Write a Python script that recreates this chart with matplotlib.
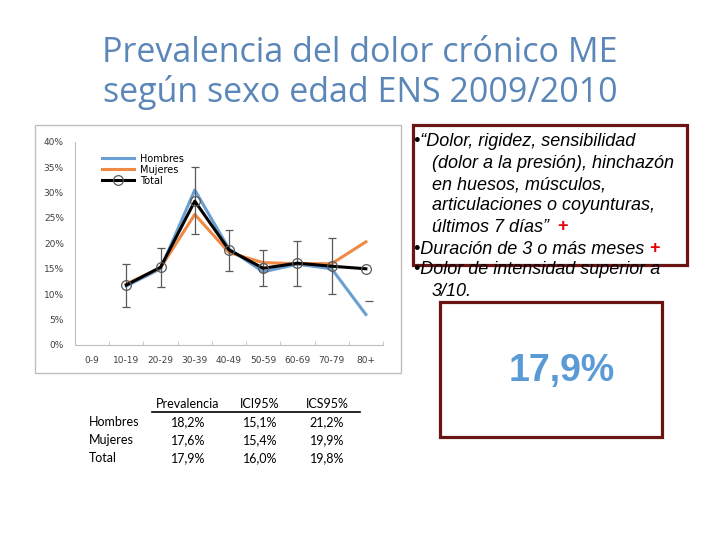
import matplotlib
matplotlib.use("Agg")
import matplotlib.pyplot as plt
from matplotlib.patches import Rectangle
import numpy as np

categories = ["0-9", "10-19", "20-29", "30-39", "40-49", "50-59", "60-69", "70-79", "80+"]
hombres = [None, 11.6, 15.0, 30.5, 18.9, 14.4, 15.9, 15.0, 6.0]
mujeres = [None, 12.0, 15.2, 25.7, 18.2, 16.2, 16.0, 16.0, 20.3]
total = [None, 11.8, 15.3, 28.3, 18.7, 15.1, 16.1, 15.5, 15.0]
total_low = [None, 7.5, 11.5, 21.8, 14.6, 11.7, 11.6, 10.0, None]
total_high = [None, 15.9, 19.0, 35.1, 22.6, 18.6, 20.5, 21.1, None]
cap_80_low = 8.6

table_cols = ["Prevalencia", "ICI95%", "ICS95%"]
table_rows = ["Hombres", "Mujeres", "Total"]
table_vals = [["18,2%", "15,1%", "21,2%"],
              ["17,6%", "15,4%", "19,9%"],
              ["17,9%", "16,0%", "19,8%"]]

W, H = 720, 540
fig = plt.figure(figsize=(7.2, 5.4), dpi=100)
fig.patch.set_facecolor("white")

def fx(x):
    return x / W

def fy(y):
    return 1 - y / H

# Title
title_color = "#5a86b8"
fig.text(fx(360), fy(62), "Prevalencia del dolor crónico ME", ha="center", va="baseline",
         fontsize=24.5, color=title_color, family="Open Sans")
fig.text(fx(360), fy(102), "según sexo edad ENS 2009/2010", ha="center", va="baseline",
         fontsize=24.5, color=title_color, family="Open Sans")

# Chart frame
fig.patches.append(Rectangle((fx(35), fy(373)), fx(401) - fx(35), fy(125) - fy(373),
                             transform=fig.transFigure, fill=False, edgecolor="#bfbfbf", lw=1))

ax = fig.add_axes([fx(75), fy(345), fx(383) - fx(75), fy(141.7) - fy(345)])
x = np.arange(len(categories))

def arr(v):
    return np.array([np.nan if a is None else a for a in v], dtype=float)

h = arr(hombres) / 100
m = arr(mujeres) / 100
t = arr(total) / 100
lo = arr(total_low) / 100
hi = arr(total_high) / 100

ax.plot(x, h, color="#6a9fd2", lw=2.2, label="Hombres")
ax.plot(x, m, color="#ee8a45", lw=2.2, label="Mujeres")
valid = ~np.isnan(lo)
ax.errorbar(x[valid], t[valid], yerr=[t[valid] - lo[valid], hi[valid] - t[valid]],
            fmt="none", ecolor="#595959", elinewidth=0.9, capsize=3, capthick=0.9)
ax.plot(x, t, color="black", lw=2.2, marker="o", markersize=7, markerfacecolor="none",
        markeredgecolor="#595959", markeredgewidth=0.9, label="Total")
ax.plot([x[-1] + 0.08], [cap_80_low / 100], marker="_", markersize=6, color="#595959",
        markeredgewidth=0.9)

ax.set_xlim(-0.5, 8.5)
ax.set_ylim(0, 0.40)
ax.set_yticks(np.arange(0, 0.41, 0.05))
ax.set_yticklabels([f"{int(round(v*100))}%" for v in np.arange(0, 0.41, 0.05)])
ax.set_xticks(x)
ax.set_xticklabels(categories)
ax.set_xticks(np.arange(0.5, 8.6, 1), minor=True)
ax.tick_params(axis="x", which="major", length=0, labelsize=6.5, colors="#404040", pad=8)
ax.tick_params(axis="x", which="minor", length=3, direction="in", color="#bfbfbf")
ax.tick_params(axis="y", length=0, labelsize=6.5, colors="#404040", pad=8)
for s in ["top", "right"]:
    ax.spines[s].set_visible(False)
for s in ["left", "bottom"]:
    ax.spines[s].set_color("#bfbfbf")
    ax.spines[s].set_linewidth(0.8)

leg = ax.legend(loc="upper left", bbox_to_anchor=(0.07, 0.97), frameon=False, fontsize=7,
                handlelength=3.3, labelspacing=0.1, borderaxespad=0.2, handletextpad=0.6)

# Right text box
red = "#6b1414"
fig.patches.append(Rectangle((fx(413), fy(265)), fx(687) - fx(413), fy(125) - fy(265),
                             transform=fig.transFigure, fill=False, edgecolor=red, lw=2.3))
fig.patches.append(Rectangle((fx(440), fy(437)), fx(662) - fx(440), fy(302) - fy(437),
                             transform=fig.transFigure, fill=False, edgecolor=red, lw=2.3))

lines = [
    (414, 142, "•“Dolor, rigidez, sensibilidad", None),
    (432, 163, "(dolor a la presión), hinchazón", None),
    (432, 185, "en huesos, músculos,", None),
    (432, 206, "articulaciones o coyunturas,", None),
    (432, 227, "últimos 7 días”", "+"),
    (414, 249, "•Duración de 3 o más meses", "+"),
    (414, 270, "•Dolor de intensidad superior a", None),
    (432, 292, "3/10.", None),
]
fig.canvas.draw()
for xx, yy, txt, plus in lines:
    tt = fig.text(fx(xx), fy(yy), txt, ha="left", va="center", fontsize=13,
                  style="italic", family="Liberation Sans", color="black")
    if plus:
        bb = tt.get_window_extent(renderer=fig.canvas.get_renderer())
        fig.text(bb.x1 / W + fx(8 if yy == 227 else 5), fy(yy), "+", ha="left", va="center",
                 fontsize=13, color="#e00000", family="Liberation Sans", fontweight="bold")

fig.text(fx(562), fy(371), "17,9%", ha="center", va="center", fontsize=27,
         fontweight="bold", color="#5b9bd5", family="Liberation Sans")

# Table
tfont = dict(fontsize=9, family="Lato", color="black")
col_x = [188, 260, 327]
for cx, c in zip(col_x, table_cols):
    fig.text(fx(cx), fy(404), c, ha="center", va="center", **tfont)
fig.add_artist(plt.Line2D([fx(152), fx(360)], [fy(411.5), fy(411.5)], color="black", lw=1.2,
                          transform=fig.transFigure))
row_y = [422, 440, 458]
for ry, rl, vals in zip(row_y, table_rows, table_vals):
    fig.text(fx(89), fy(ry), rl, ha="left", va="center", **tfont)
    for cx, v in zip(col_x, vals):
        fig.text(fx(cx), fy(ry), v, ha="center", va="center", **tfont)

fig.savefig("out.png", dpi=100, facecolor="white")
